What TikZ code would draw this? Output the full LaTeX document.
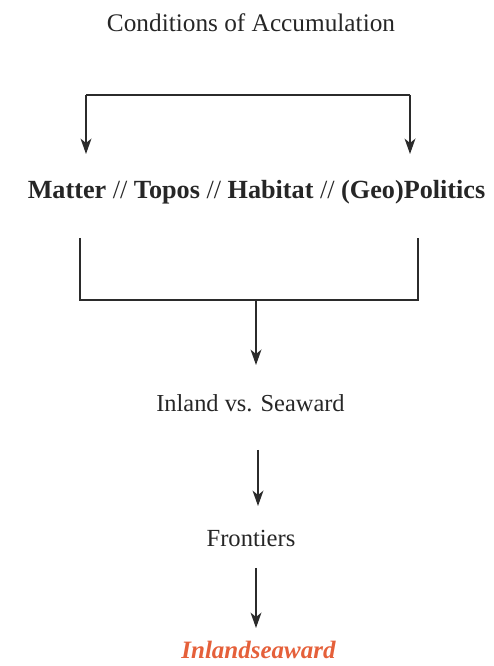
\documentclass[tikz,border=0pt]{standalone}
\usepackage{fontspec}
\setmainfont{Liberation Serif}
\definecolor{inkline}{HTML}{2B2B2B}
\definecolor{accent}{HTML}{E5603A}
\tikzset{
  txt/.style={anchor=base, inner sep=0pt, text=black!85},
  link/.style={draw=inkline, line width=1.1pt},
  linkarrow/.style={link, shorten >=6pt},
  downtip/.pic={\fill[inkline] (0,0) -- (-5.5,15.5) -- (0,11) -- (5.5,15.5) -- cycle;},
}
\begin{document}
\begin{tikzpicture}[x=1pt, y=1pt]
  \useasboundingbox (0,0) rectangle (493,666);

  % text blocks
  \node[txt, font=\fontsize{25.3}{30}\selectfont] (cond) at (251,634) {Conditions of Accumulation};
  \node[txt, font=\fontsize{26.2}{31}\selectfont] (pillars) at (256.5,467)
    {\textbf{Matter} // \textbf{Topos} // \textbf{Habitat} // \textbf{(Geo)Politics}};
  \node[txt, font=\fontsize{24.4}{29}\selectfont] (inland) at (250.5,254) {Inland vs. Seaward};
  \node[txt, font=\fontsize{24.6}{29}\selectfont] (front) at (251,119) {Frontiers};
  \node[txt, font=\fontsize{25}{30}\selectfont\bfseries\itshape, text=accent] (inseaward) at (258.5,7) {Inlandseaward};

  % top bracket splitting down to both ends of the row
  \coordinate (tl) at (86,571);
  \coordinate (tr) at (410,571);
  \coordinate (tlend) at (86,512);
  \coordinate (trend) at (410,512);
  \draw[link] (tl) -- (tr);
  \draw[linkarrow, line width=1.6pt] (tl) -- (tlend);
  \pic at (tlend) {downtip};
  \draw[linkarrow] (tr) -- (trend);
  \pic at (trend) {downtip};

  % bottom bracket gathering the row
  \coordinate (bl) at (80,428);
  \coordinate (br) at (418,428);
  \coordinate (blc) at (80,366);
  \coordinate (brc) at (418,366);
  \coordinate (bmid) at (256,366);
  \coordinate (bmidend) at (256,301);
  \draw[link] (bl) -- (blc) -- (brc) -- (br);
  \draw[linkarrow] (bmid) -- (bmidend);
  \pic at (bmidend) {downtip};

  % downward chain
  \coordinate (a1) at (258,216);
  \coordinate (a1end) at (258,160);
  \draw[linkarrow] (a1) -- (a1end);
  \pic at (a1end) {downtip};
  \coordinate (a2) at (256,98);
  \coordinate (a2end) at (256,38);
  \draw[linkarrow] (a2) -- (a2end);
  \pic at (a2end) {downtip};
\end{tikzpicture}
\end{document}
